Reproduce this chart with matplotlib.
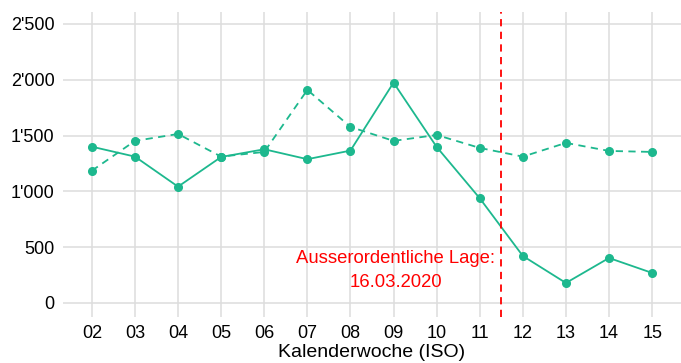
import matplotlib.pyplot as plt
from matplotlib.ticker import FuncFormatter

plt.rcParams['font.family'] = ['Liberation Sans', 'DejaVu Sans']

wochen = ['02', '03', '04', '05', '06', '07', '08', '09', '10', '11', '12', '13', '14', '15']
kw = list(range(2, 16))
aktuell = [1400, 1311, 1042, 1308, 1377, 1288, 1365, 1974, 1398, 938, 421, 179, 403, 269]
vorjahr = [1185, 1452, 1514, 1311, 1353, 1909, 1577, 1452, 1505, 1389, 1311, 1434, 1362, 1353]

farbe = '#1DB88E'

fig = plt.figure(figsize=(6.81, 3.63), dpi=100)
ax = fig.add_axes([0.0925, 0.127, 0.9075, 0.84])

ax.plot(kw, aktuell, '-', color=farbe, lw=1.3, marker='o', ms=5.5)
ax.plot(kw, vorjahr, '--', color=farbe, lw=1.3, marker='o', ms=5.5, dashes=(4, 3))

ax.axvline(11.5, color='red', ls='--', lw=1.3, dashes=(4, 3))
ax.text(11.36, 290, 'Ausserordentliche Lage:\n16.03.2020', color='red', fontsize=13.3,
        ha='right', va='center', multialignment='center', linespacing=1.6)

ax.set_xlim(1.33, 15.67)
ax.set_ylim(-125, 2607)
ax.set_xticks(kw)
ax.set_xticklabels(wochen)
ax.set_yticks([0, 500, 1000, 1500, 2000, 2500])
ax.yaxis.set_major_formatter(FuncFormatter(lambda v, p: f'{int(v):,}'.replace(',', "'")))

ax.grid(True, color='#DDDDDD', lw=1.1)
ax.set_axisbelow(True)
for s in ax.spines.values():
    s.set_visible(False)
ax.tick_params(length=0, labelsize=13, colors='black', pad=6)
ax.set_xlabel('Kalenderwoche (ISO)', fontsize=14, labelpad=1)

fig.savefig('out.png', dpi=100)
